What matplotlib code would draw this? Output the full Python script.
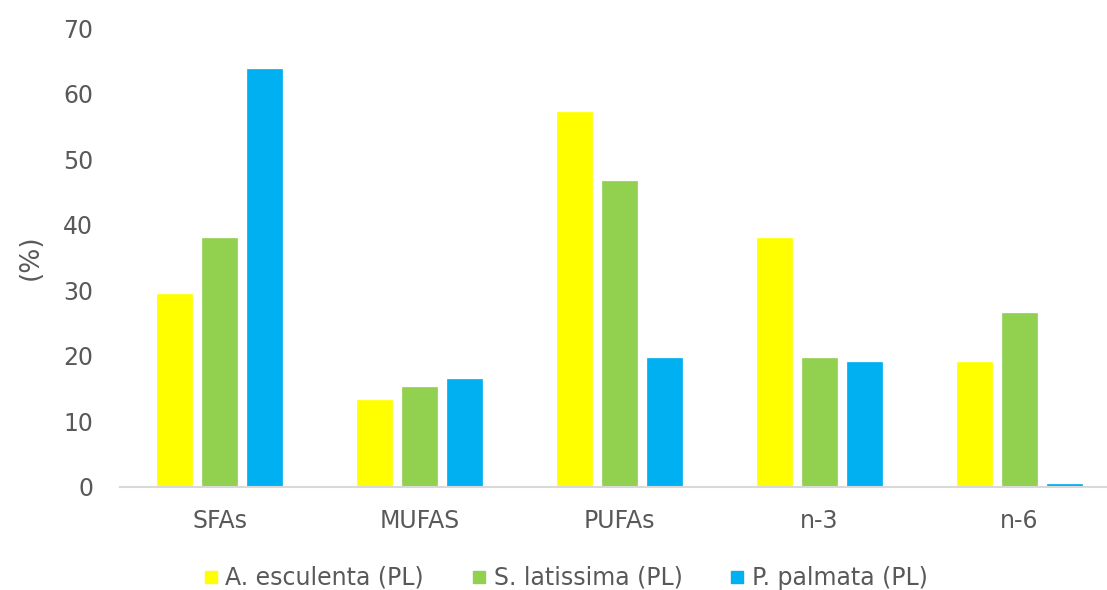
import matplotlib
matplotlib.use("Agg")
import matplotlib.pyplot as plt
import numpy as np
from matplotlib.lines import Line2D

categories = ["SFAs", "MUFAS", "PUFAs", "n-3", "n-6"]
series_names = ["A. esculenta (PL)", "S. latissima (PL)", "P. palmata (PL)"]
a_esculenta = [29.4, 13.2, 57.2, 37.9, 19.1]
s_latissima = [37.9, 15.3, 46.6, 19.7, 26.5]
p_palmata = [63.7, 16.4, 19.7, 19.1, 0.5]
y_ticks = [0, 10, 20, 30, 40, 50, 60, 70]

colors = ["#FFFF00", "#92D050", "#00B0F0"]
text_color = "#595959"

plt.rcParams["font.family"] = ["DejaVu Sans"]

W, H = 1107, 590
fig = plt.figure(figsize=(W / 100, H / 100), dpi=100)

# plot area in pixel terms (the right side runs past the figure edge)
left, right, bottom, top = 119.5, 1119.5, 487, 28
ax = fig.add_axes([left / W, 1 - bottom / H, (right - left) / W, (bottom - top) / H])

x = np.arange(len(categories))
width = 0.175
offset = 0.225
for i, (vals, c) in enumerate(zip([a_esculenta, s_latissima, p_palmata], colors)):
    ax.bar(x + (i - 1) * offset, vals, width=width, color=c,
           edgecolor=c, linewidth=0.5, zorder=2)

ax.set_xlim(-0.5, len(categories) - 0.5)
ax.set_ylim(0, 70)
ax.set_yticks(y_ticks)
ax.set_xticks(x)
ax.set_xticklabels(categories)

for s in ["top", "right", "left"]:
    ax.spines[s].set_visible(False)
ax.spines["bottom"].set_color("#D9D9D9")
ax.spines["bottom"].set_linewidth(1.5)
ax.spines["bottom"].set_zorder(3)

ax.tick_params(axis="both", length=0, colors=text_color, labelsize=17)
ax.tick_params(axis="y", pad=19)
ax.tick_params(axis="x", pad=16)

ax.set_ylabel("(%)", fontsize=19, color=text_color, labelpad=14)

handles = [Line2D([0], [0], marker="s", linestyle="none", markersize=9,
                  markerfacecolor=c, markeredgecolor=c) for c in colors]
fig.legend(handles, series_names, loc="center", ncol=3,
           bbox_to_anchor=(566 / W, 1 - 578 / H), frameon=False,
           fontsize=17, labelcolor=text_color, handlelength=0.55,
           handletextpad=0.35, columnspacing=2.05)

fig.savefig("out.png", dpi=100, facecolor="white")
